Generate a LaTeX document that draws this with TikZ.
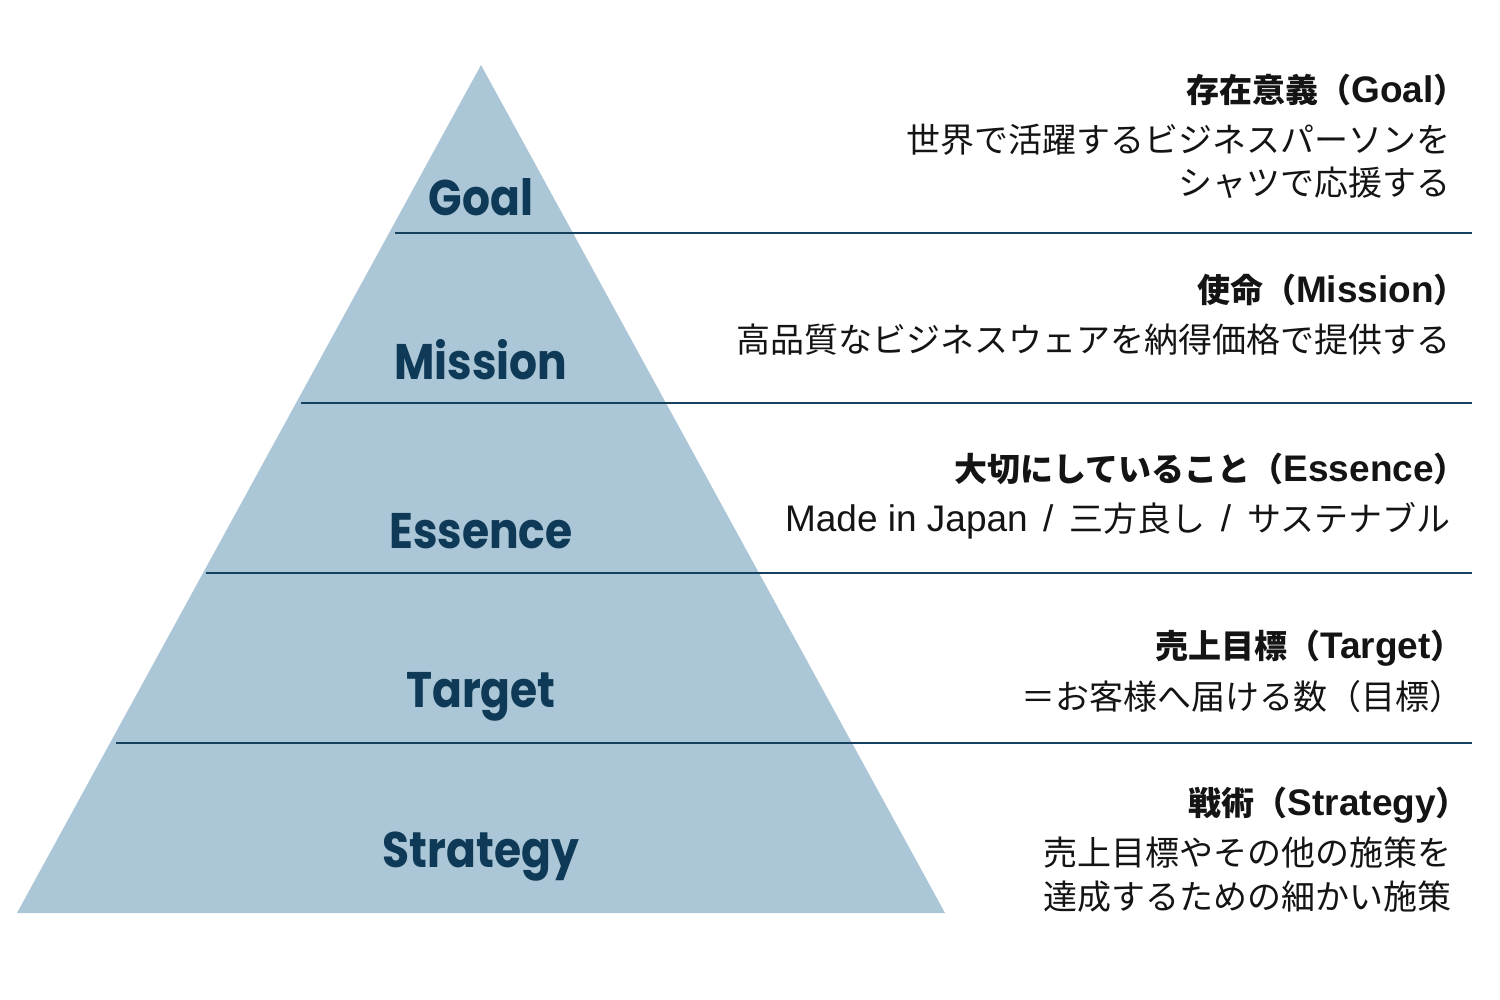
\documentclass[tikz,border=0pt]{standalone}
\usepackage{fontspec}
\usepackage{graphicx}
\newfontfamily\jpfont{Noto Sans CJK JP}
\newfontfamily\labfont{Poppins}
\newfontfamily\latfont{Liberation Sans}
\newcommand{\hlat}[1]{{\latfont\bfseries\fontsize{37}{37}\selectfont #1}}
\newcommand{\blat}[1]{{\latfont\fontsize{37}{37}\selectfont #1}}
\definecolor{pyrfill}{HTML}{ABC6D6}
\definecolor{labcol}{HTML}{0E3A57}
\definecolor{rulecol}{HTML}{15405E}
\definecolor{txtcol}{HTML}{141414}
\begin{document}
\begin{tikzpicture}[x=1pt,y=-1pt,
  lab/.style={anchor=base,inner sep=0pt,text=labcol,font=\labfont\bfseries\fontsize{50}{50}\selectfont},
  head/.style={anchor=east,inner sep=0pt,text height=29pt,text depth=4pt,text=txtcol,font=\jpfont\bfseries\fontsize{33}{33}\selectfont},
  body/.style={anchor=east,inner sep=0pt,text height=30pt,text depth=4pt,text=txtcol,font=\jpfont\fontsize{34}{34}\selectfont},
  rule/.style={draw=rulecol,line width=2pt}]
\useasboundingbox (0,0) rectangle (1500,1000);
% pyramid
\coordinate (apex) at (481,65);
\coordinate (bl) at (17,913);
\coordinate (br) at (945,913);
\fill[pyrfill] (apex) -- (bl) -- (br) -- cycle;
% rules
\coordinate (r1a) at (395,233); \coordinate (r1b) at (1472,233);
\coordinate (r2a) at (301,403); \coordinate (r2b) at (1472,403);
\coordinate (r3a) at (206,573); \coordinate (r3b) at (1472,573);
\coordinate (r4a) at (116,743); \coordinate (r4b) at (1472,743);
\draw[rule] (r1a) -- (r1b);
\draw[rule] (r2a) -- (r2b);
\draw[rule] (r3a) -- (r3b);
\draw[rule] (r4a) -- (r4b);
% pyramid labels
\node[lab] (lgoal) at (481,216) {\scalebox{0.88}[1]{Goal}};
\node[lab] (lmission) at (481,380) {\scalebox{0.88}[1]{Mission}};
\node[lab] (lessence) at (481,548) {\scalebox{0.88}[1]{Essence}};
\node[lab] (ltarget) at (481,707) {\scalebox{0.88}[1]{Target}};
\node[lab] (lstrategy) at (481,867) {\scalebox{0.88}[1]{Strategy}};
% right texts
\node[head] (hgoal) at (1467,90) {存在意義（\hlat{Goal}）};
\node[body] (bgoal1) at (1451,140) {世界で活躍するビジネスパーソンを};
\node[body] (bgoal2) at (1451,183) {シャツで応援する};
\node[head] (hmission) at (1467,290) {使命（\hlat{Mission}）};
\node[body] (bmission) at (1451,340) {高品質なビジネスウェアを納得価格で提供する};
\node[head] (hessence) at (1467,469) {大切にしていること（\hlat{Essence}）};
\node[body] (bessence) at (1451,518) {\blat{Made in Japan\hspace{5pt} /\hspace{6pt} }三方良し\blat{\hspace{5pt} /\hspace{6pt} }サステナブル};
\node[head] (htarget) at (1464,646) {売上目標（\hlat{Target}）};
\node[body] (btarget) at (1464,696) {＝お客様へ届ける数（目標）};
\node[head] (hstrategy) at (1469,803) {戦術（\hlat{Strategy}）};
\node[body] (bstrat1) at (1452,852) {売上目標やその他の施策を};
\node[body] (bstrat2) at (1452,896) {達成するための細かい施策};
\end{tikzpicture}
\end{document}
